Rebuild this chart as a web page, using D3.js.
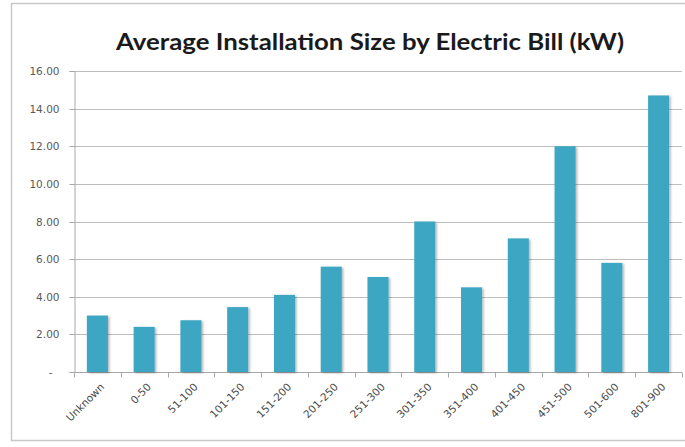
<!DOCTYPE html>
<html>
<head>
<meta charset="utf-8">
<script src="https://cdn.jsdelivr.net/npm/d3@7"></script>
<style>
  html, body { margin: 0; padding: 0; background: #fff; }
  svg { display: block; }
</style>
</head>
<body>
<svg id="chart" width="685" height="447"></svg>
<script>
// Average installation size (kW) by monthly electric bill bracket
const categories = ["Unknown", "0-50", "51-100", "101-150", "151-200", "201-250", "251-300",
                    "301-350", "351-400", "401-450", "451-500", "501-600", "801-900"];
const sizes = [3.0, 2.4, 2.75, 3.45, 4.1, 5.6, 5.05, 8.0, 4.5, 7.1, 12.0, 5.8, 14.7];
const yTicks = [0, 2, 4, 6, 8, 10, 12, 14, 16];
const titleText = "Average Installation Size by Electric Bill (kW)";

const svg = d3.select("#chart");
const W = 685, H = 447;
const plot = { left: 74, right: 682, top: 71, bottom: 372 };

// chart frame
svg.append("rect")
  .attr("x", 11.5).attr("y", 3.5)
  .attr("width", W).attr("height", 437)
  .attr("fill", "#fff")
  .attr("stroke", "#c9c9c9").attr("stroke-width", 1.5);

// soft shadow under the bars
const defs = svg.append("defs");
const f = defs.append("filter").attr("id", "shadow")
  .attr("x", "-30%").attr("y", "-10%").attr("width", "160%").attr("height", "120%");
f.append("feDropShadow").attr("dx", 1.5).attr("dy", 1).attr("stdDeviation", 1)
  .attr("flood-color", "#000").attr("flood-opacity", 0.3);

const x = d3.scaleBand()
  .domain(categories)
  .range([plot.left, plot.right])
  .paddingInner(0.55)
  .paddingOuter(0.275);

const y = d3.scaleLinear()
  .domain([0, 16])
  .range([plot.bottom, plot.top]);

// horizontal gridlines
svg.append("g")
  .selectAll("line")
  .data(yTicks)
  .join("line")
  .attr("x1", plot.left).attr("x2", plot.right)
  .attr("y1", d => Math.round(y(d)) + 0.5).attr("y2", d => Math.round(y(d)) + 0.5)
  .attr("stroke", "#bdbdbd").attr("stroke-width", 1);

// y axis
const yAxis = d3.axisLeft(y)
  .tickValues(yTicks)
  .tickSize(5)
  .tickPadding(10)
  .tickFormat(d => d === 0 ? "-" : d3.format(".2f")(d));

const gy = svg.append("g")
  .attr("transform", `translate(${plot.left + 0.5},0)`)
  .call(yAxis);
gy.select(".domain").attr("stroke", "#a8a8a8");
gy.selectAll(".tick line").attr("stroke", "#a8a8a8");
gy.selectAll(".tick").attr("transform", d => `translate(0,${Math.round(y(d)) + 0.5})`);
gy.selectAll(".tick text")
  .attr("fill", "#5a5a5a")
  .style("font-family", "'DejaVu Sans', sans-serif")
  .style("font-size", "10.5px");
gy.selectAll(".tick").filter(d => d === 0).select("text").attr("x", -22);

// x axis with ticks at category boundaries
const gx = svg.append("g")
  .attr("transform", `translate(0,${Math.round(plot.bottom) + 0.5})`);
gx.append("line")
  .attr("x1", plot.left).attr("x2", plot.right)
  .attr("stroke", "#a8a8a8");
const step = x.step();
const boundaries = d3.range(categories.length + 1).map(i => plot.left + i * step);
gx.selectAll("line.tk")
  .data(boundaries)
  .join("line")
  .attr("class", "tk")
  .attr("x1", d => Math.round(d) + 0.5).attr("x2", d => Math.round(d) + 0.5)
  .attr("y1", 0).attr("y2", 5)
  .attr("stroke", "#a8a8a8");

// bars
svg.append("g")
  .attr("filter", "url(#shadow)")
  .selectAll("rect")
  .data(categories.map((c, i) => ({ c, v: sizes[i] })))
  .join("rect")
  .attr("x", d => x(d.c))
  .attr("y", d => y(d.v))
  .attr("width", x.bandwidth())
  .attr("height", d => y(0) - y(d.v))
  .attr("fill", "#3ea6c3");

// rotated category labels
svg.append("g")
  .selectAll("text")
  .data(categories)
  .join("text")
  .attr("transform", d => `translate(${x(d) + x.bandwidth() / 2 + 5},${plot.bottom + 13}) rotate(-45)`)
  .attr("text-anchor", "end")
  .attr("dy", "0.35em")
  .attr("fill", "#4a4a4a")
  .style("font-family", "'DejaVu Sans', sans-serif")
  .style("font-size", "10.5px")
  .text(d => d);

// title
svg.append("text")
  .attr("x", 370)
  .attr("y", 50)
  .attr("text-anchor", "middle")
  .attr("fill", "#1a1a1a")
  .attr("textLength", 508)
  .attr("lengthAdjust", "spacingAndGlyphs")
  .style("font-family", "Lato, 'Open Sans', sans-serif")
  .style("font-weight", "bold")
  .style("font-size", "23px")
  .text(titleText);
</script>
</body>
</html>
